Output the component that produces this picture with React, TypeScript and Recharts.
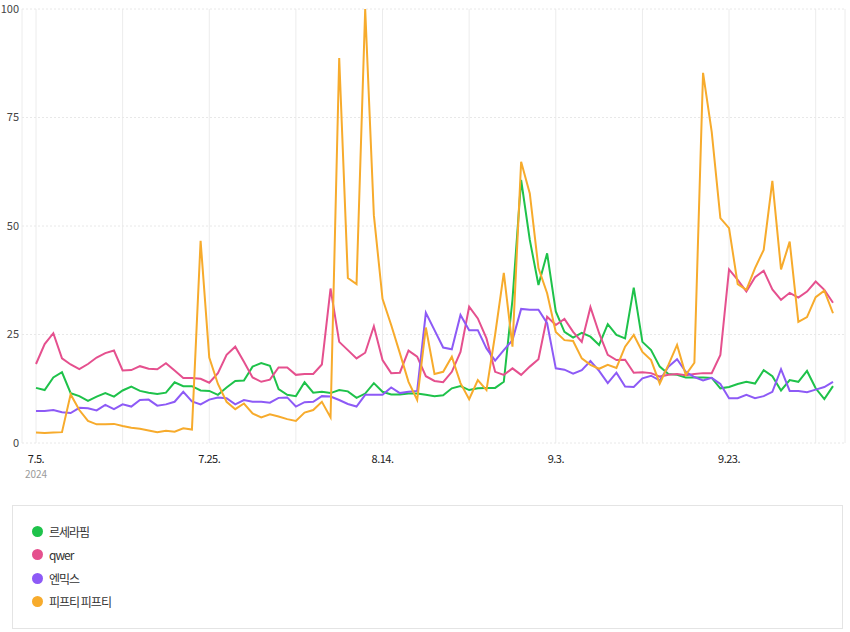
import React from 'react';
import { LineChart, Line, XAxis, YAxis, CartesianGrid } from 'recharts';

// daily search index, 2024-07-05 .. 2024-10-05
const MONTH_LENGTHS: Record<number, number> = { 7: 31, 8: 31, 9: 30, 10: 31 };

function buildDates(month: number, day: number, count: number): string[] {
  const out: string[] = [];
  let m = month;
  let d = day;
  for (let i = 0; i < count; i++) {
    out.push(`${m}.${d}.`);
    d += 1;
    if (d > MONTH_LENGTHS[m]) {
      d = 1;
      m += 1;
    }
  }
  return out;
}

const dates = buildDates(7, 5, 93);

const tickDates = ['7.5.', '7.15.', '7.25.', '8.4.', '8.14.', '8.24.', '9.3.', '9.13.', '9.23.', '10.3.'];
const labelledDates = ['7.5.', '7.25.', '8.14.', '9.3.', '9.23.'];
const yTicks = [0, 25, 50, 75, 100];

const lesserafim = [
  12.7, 12.2, 15.1, 16.3, 11.5, 10.8, 9.7, 10.7, 11.5, 10.7,
  12.1, 13.0, 12.0, 11.6, 11.3, 11.6, 14.0, 13.1, 13.1, 12.1,
  12.0, 11.1, 12.8, 14.3, 14.4, 17.6, 18.4, 17.8, 12.4, 11.1,
  10.8, 14.0, 11.6, 11.8, 11.5, 12.2, 11.9, 10.4, 11.4, 13.8,
  11.8, 11.2, 11.2, 11.4, 11.4, 11.1, 10.8, 11.0, 12.6, 13.1,
  12.2, 12.6, 12.7, 12.7, 14.1, 33.0, 60.6, 46.8, 36.4, 43.7,
  30.3, 25.6, 24.3, 25.4, 24.5, 22.6, 27.4, 24.9, 24.1, 35.8,
  23.3, 21.4, 17.6, 15.9, 15.7, 15.1, 15.1, 15.1, 15.0, 12.6,
  12.9, 13.6, 14.1, 13.7, 16.8, 15.4, 12.1, 14.5, 14.1, 16.6,
  12.6, 10.1, 13.1,
];

const qwer = [
  18.2, 22.8, 25.3, 19.5, 18.1, 17.0, 18.2, 19.7, 20.7, 21.3,
  16.7, 16.8, 17.7, 17.1, 17.0, 18.4, 16.7, 15.0, 15.0, 14.8,
  13.9, 16.1, 20.3, 22.2, 18.7, 15.1, 14.1, 14.6, 17.4, 17.4,
  15.7, 15.9, 15.9, 18.1, 35.6, 23.3, 21.4, 19.5, 20.8, 26.9,
  19.1, 16.1, 16.2, 21.3, 19.9, 15.4, 14.3, 14.0, 16.4, 21.0,
  31.4, 28.7, 24.1, 16.4, 15.7, 17.2, 15.7, 17.6, 19.3, 29.1,
  27.2, 28.6, 25.6, 23.3, 31.3, 25.3, 20.3, 19.1, 19.2, 16.2,
  16.3, 16.1, 15.3, 15.7, 15.9, 15.6, 15.9, 16.1, 16.1, 20.3,
  40.0, 37.6, 34.9, 38.2, 39.7, 35.4, 33.0, 34.6, 33.5, 34.9,
  37.2, 35.3, 32.3,
];

const nmixx = [
  7.4, 7.4, 7.6, 7.1, 6.9, 8.1, 8.0, 7.5, 8.8, 7.8,
  8.9, 8.4, 9.9, 10.0, 8.6, 8.9, 9.5, 11.8, 9.6, 8.9,
  10.0, 10.5, 10.3, 8.9, 9.9, 9.5, 9.5, 9.3, 10.4, 10.5,
  8.4, 9.4, 9.5, 10.8, 10.7, 9.9, 9.0, 8.4, 11.1, 11.1,
  11.1, 12.8, 11.5, 11.8, 12.0, 30.0, 26.0, 22.0, 21.6, 29.5,
  26.0, 26.0, 21.8, 19.0, 21.4, 23.7, 30.9, 30.7, 30.7, 27.6,
  17.2, 16.9, 16.0, 16.8, 18.9, 16.6, 13.8, 16.2, 13.0, 12.9,
  14.9, 15.5, 14.4, 17.6, 19.3, 16.4, 15.2, 14.4, 15.0, 13.6,
  10.3, 10.3, 11.1, 10.3, 10.8, 11.8, 17.0, 12.0, 12.0, 11.7,
  12.3, 12.9, 14.1,
];

const fiftyFifty = [
  2.4, 2.3, 2.4, 2.5, 11.2, 7.6, 5.1, 4.3, 4.3, 4.4,
  3.9, 3.5, 3.3, 2.9, 2.5, 2.8, 2.6, 3.4, 3.1, 46.6,
  19.7, 13.6, 9.5, 7.8, 9.1, 6.8, 5.9, 6.6, 6.1, 5.5,
  5.1, 7.0, 7.6, 9.5, 5.9, 88.7, 38.0, 36.6, 100, 52.5,
  33.2, 27.2, 20.7, 14.1, 9.9, 26.6, 15.9, 16.4, 19.9, 13.8,
  10.1, 14.5, 12.2, 25.0, 39.2, 22.2, 64.8, 57.5, 40.3, 34.5,
  25.6, 23.7, 23.5, 19.5, 18.0, 17.1, 18.0, 17.3, 22.2, 24.9,
  21.0, 19.1, 13.7, 18.0, 22.6, 15.7, 18.5, 85.3, 71.7, 51.8,
  49.5, 36.6, 35.3, 40.3, 44.5, 60.4, 40.0, 46.4, 27.9, 29.0,
  33.6, 35.1, 29.9,
];

const SERIES = [
  { key: 'lesserafim', name: '르세라핌', color: '#1ec24a', values: lesserafim },
  { key: 'qwer', name: 'qwer', color: '#e5508e', values: qwer },
  { key: 'nmixx', name: '엔믹스', color: '#8d5af6', values: nmixx },
  { key: 'fiftyFifty', name: '피프티 피프티', color: '#f7ab2c', values: fiftyFifty },
];

const chartData = dates.map((date, i) => {
  const row: Record<string, string | number> = { date };
  for (const s of SERIES) row[s.key] = s.values[i];
  return row;
});

const FONT = "'Noto Sans CJK KR', 'Noto Sans', sans-serif";

function DateTick(props: any) {
  const { x, y, payload } = props;
  const label = payload.value as string;
  if (!labelledDates.includes(label)) return <g />;
  return (
    <g transform={`translate(${x},${y})`}>
      <text textAnchor="middle" dy={18} fontSize={11} fill="#222" fontFamily={FONT} letterSpacing={-0.5}>
        {label}
      </text>
      {label === dates[0] && (
        <text textAnchor="middle" dy={33} fontSize={10} fill="#9a9a9a" fontFamily={FONT}>
          2024
        </text>
      )}
    </g>
  );
}

export default function App() {
  return (
    <div
      style={{
        position: 'absolute',
        left: 0,
        top: 0,
        width: 850,
        height: 632,
        background: '#fff',
        fontFamily: FONT,
      }}
    >
      <LineChart
        width={850}
        height={490}
        data={chartData}
        margin={{ top: 9, right: 5, bottom: 0, left: 0 }}
      >
        <CartesianGrid horizontal={false} stroke="#ececec" />
        <CartesianGrid vertical={false} stroke="#e8e8e8" strokeDasharray="2 2" />
        <XAxis
          dataKey="date"
          ticks={tickDates}
          interval={0}
          tick={<DateTick />}
          tickLine={false}
          axisLine={false}
          tickSize={0}
          height={47}
          padding={{ left: 14, right: 12 }}
        />
        <YAxis
          domain={[0, 100]}
          ticks={yTicks}
          width={22}
          tickLine={false}
          axisLine={false}
          tickSize={0}
          tickMargin={3}
          tick={{ fontSize: 11, fill: '#444' }}
        />
        {SERIES.map((s) => (
          <Line
            key={s.key}
            type="linear"
            dataKey={s.key}
            name={s.name}
            stroke={s.color}
            strokeWidth={2}
            dot={false}
            activeDot={false}
            isAnimationActive={false}
          />
        ))}
      </LineChart>
      <div
        style={{
          position: 'absolute',
          left: 12,
          top: 505,
          width: 829,
          height: 122,
          border: '1px solid #e4e4e4',
        }}
      >
        <ul style={{ listStyle: 'none', margin: 0, padding: '14px 0 0 19px' }}>
          {SERIES.map((s) => (
            <li
              key={s.key}
              style={{
                display: 'flex',
                alignItems: 'center',
                height: 23.3,
                fontSize: 12,
                letterSpacing: -1,
                color: '#333',
              }}
            >
              <span
                style={{
                  display: 'inline-block',
                  width: 11,
                  height: 11,
                  borderRadius: '50%',
                  background: s.color,
                  marginRight: 6,
                }}
              />
              {s.name}
            </li>
          ))}
        </ul>
      </div>
    </div>
  );
}
